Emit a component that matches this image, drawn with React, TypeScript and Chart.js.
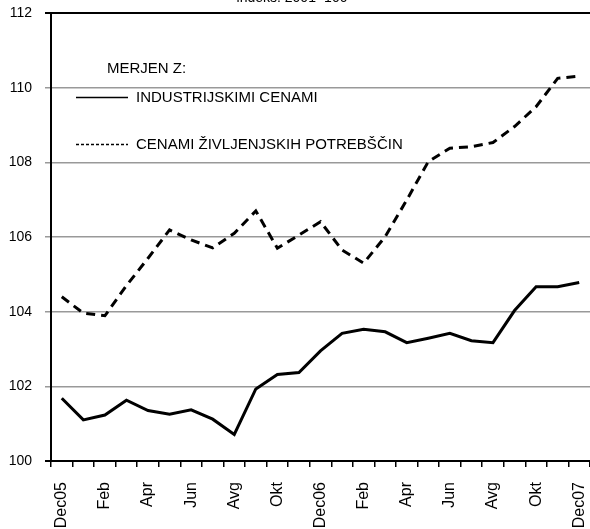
import React, { useEffect, useRef } from "react";
import { Chart, registerables } from "chart.js";

Chart.register(...registerables);

const months = [
  "Dec05", "Jan", "Feb", "Mar", "Apr", "Maj", "Jun", "Jul", "Avg", "Sep", "Okt", "Nov",
  "Dec06", "Jan", "Feb", "Mar", "Apr", "Maj", "Jun", "Jul", "Avg", "Sep", "Okt", "Nov",
  "Dec07",
];

const industrijskimiCenami = [
  101.68, 101.1, 101.23, 101.63, 101.35, 101.25, 101.37, 101.12, 100.71, 101.93, 102.32, 102.37,
  102.95, 103.42, 103.53, 103.46, 103.17, 103.29, 103.42, 103.22, 103.17, 104.03, 104.67, 104.67,
  104.78,
];

const zivljenjskihPotrebscin = [
  104.4, 103.96, 103.89, 104.7, 105.43, 106.19, 105.92, 105.71, 106.1, 106.7, 105.7, 106.05,
  106.41, 105.65, 105.3, 106.01, 106.99, 108.02, 108.38, 108.42, 108.53, 108.96, 109.49, 110.25,
  110.31,
];

const titleText = "indeks: 2001=100";
const legendHeader = "MERJEN Z:";
const legendLabels = ["INDUSTRIJSKIMI CENAMI", "CENAMI ŽIVLJENJSKIH POTREBŠČIN"];

const FONT = '"Liberation Sans", Arial, sans-serif';

const overlayPlugin = {
  id: "overlay",
  afterDraw(chart: any) {
    const ctx = chart.ctx;
    ctx.save();
    ctx.fillStyle = "#000";
    ctx.font = `14px ${FONT}`;
    ctx.textAlign = "center";
    ctx.textBaseline = "alphabetic";
    ctx.fillText(titleText, 292, 2);

    ctx.font = `15px ${FONT}`;
    ctx.textAlign = "left";
    ctx.textBaseline = "middle";
    ctx.fillText(legendHeader, 107, 69);

    ctx.strokeStyle = "#000";
    ctx.lineWidth = 1.5;
    ctx.setLineDash([]);
    ctx.beginPath();
    ctx.moveTo(76, 97.5);
    ctx.lineTo(128, 97.5);
    ctx.stroke();
    ctx.fillText(legendLabels[0], 136, 98);

    ctx.setLineDash([3, 2]);
    ctx.beginPath();
    ctx.moveTo(76, 144.5);
    ctx.lineTo(128, 144.5);
    ctx.stroke();
    ctx.setLineDash([]);
    ctx.fillText(legendLabels[1], 136, 145);
    ctx.restore();
  },
};

export default function App() {
  const ref = useRef<HTMLCanvasElement>(null);
  useEffect(() => {
    if (!ref.current) return;
    const chart = new Chart(ref.current, {
      type: "line",
      data: {
        labels: months,
        datasets: [
          {
            label: legendLabels[0],
            data: industrijskimiCenami,
            borderColor: "#000",
            borderWidth: 3,
            pointRadius: 0,
            tension: 0,
            fill: false,
          },
          {
            label: legendLabels[1],
            data: zivljenjskihPotrebscin,
            borderColor: "#000",
            borderWidth: 3,
            borderDash: [9, 6],
            pointRadius: 0,
            tension: 0,
            fill: false,
          },
        ],
      },
      options: {
        animation: false,
        responsive: true,
        maintainAspectRatio: false,
        layout: { padding: { top: 13, left: 0, right: 0, bottom: 0 } },
        plugins: {
          legend: { display: false },
          title: { display: false },
          tooltip: { enabled: false },
        },
        scales: {
          x: {
            type: "category",
            offset: true,
            afterFit: (scale: any) => {
              scale.height = 68;
              scale.paddingLeft = 0;
              scale.paddingRight = 0;
            },
            grid: {
              offset: true,
              drawOnChartArea: false,
              drawTicks: true,
              tickLength: 6,
              color: "#000",
              lineWidth: 1.5,
            },
            border: { display: true, color: "#000", width: 2 },
            ticks: {
              autoSkip: false,
              minRotation: 90,
              maxRotation: 90,
              padding: 15,
              color: "#000",
              font: { family: FONT, size: 16 },
              callback: (_v: any, i: number) => (i % 2 === 0 ? months[i] : ""),
            },
          },
          y: {
            min: 100,
            max: 112,
            afterFit: (scale: any) => {
              scale.width = 51;
              scale.paddingTop = 0;
              scale.paddingBottom = 0;
            },
            grid: {
              color: (c: any) =>
                c.tick && (c.tick.value === 112 || c.tick.value === 100) ? "#000" : "#999",
              lineWidth: (c: any) =>
                c.tick && (c.tick.value === 112 || c.tick.value === 100) ? 2 : 1.5,
              tickLength: 6,
            },
            border: { display: true, color: "#000", width: 2 },
            ticks: {
              stepSize: 2,
              padding: 13,
              color: "#000",
              font: { family: FONT, size: 14 },
            },
          },
        },
      },
      plugins: [overlayPlugin],
    });
    return () => chart.destroy();
  }, []);
  return (
    <div style={{ position: "absolute", left: 0, top: 0, width: 590, height: 529, background: "#fff" }}>
      <canvas ref={ref} />
    </div>
  );
}
